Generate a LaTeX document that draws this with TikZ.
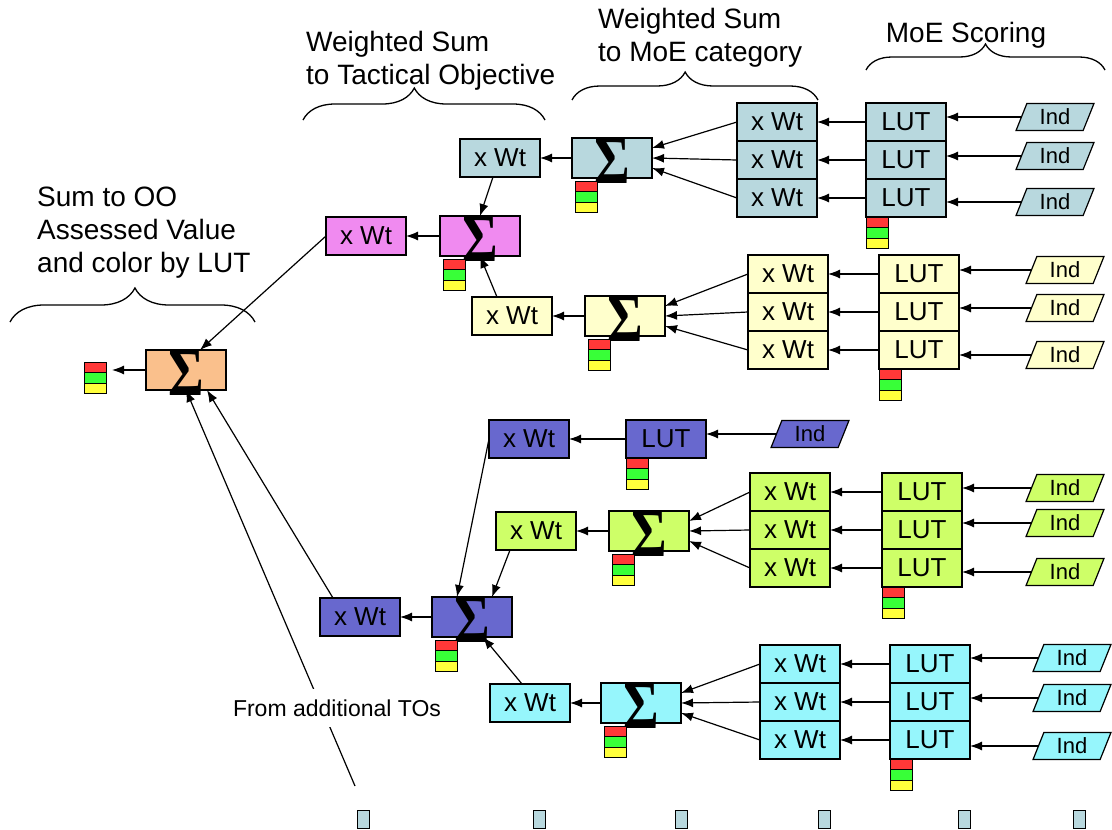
\documentclass[tikz,border=0pt]{standalone}
\usepackage{fontspec}
\setmainfont{Liberation Sans}
\newfontfamily\sigmafont{Liberation Serif}
\usetikzlibrary{arrows.meta,shapes,positioning,decorations.pathreplacing}

\definecolor{tealbox}{RGB}{184,216,222}
\definecolor{pinkbox}{RGB}{240,138,240}
\definecolor{creambox}{RGB}{255,255,204}
\definecolor{peachbox}{RGB}{250,192,140}
\definecolor{navybox}{RGB}{104,104,206}
\definecolor{limebox}{RGB}{206,255,104}
\definecolor{cyanbox}{RGB}{150,246,252}
\definecolor{lampred}{RGB}{255,56,56}
\definecolor{lampgreen}{RGB}{56,255,56}
\definecolor{lampyellow}{RGB}{255,255,60}

\newcommand{\sumsign}{\raisebox{-25pt}[0pt][0pt]{\scalebox{0.8}[1]{\sigmafont\bfseries\fontsize{68}{68}\selectfont Σ}}}
\newcommand{\lights}[2]{%
  \node[lamp, fill=lampred, anchor=north west] (#1r) at (#2) {};
  \node[lamp, fill=lampgreen, below=0pt of #1r] (#1g) {};
  \node[lamp, fill=lampyellow, below=0pt of #1g] (#1y) {};}

\begin{document}
\begin{tikzpicture}[
  x = 1pt, y = -1pt,
  > = {Latex[length=12pt,width=9pt]},
  cell/.style = {rectangle, draw, line width=1.3pt, inner sep=0pt, outer sep=0pt,
                 minimum width=80pt, minimum height=38pt,
                 font=\fontsize{26}{30}\selectfont},
  sig/.style = {cell, minimum height=40pt},
  ind/.style = {trapezium, trapezium left angle=70, trapezium right angle=110,
                trapezium stretches=true, draw, line width=1.2pt,
                minimum width=78pt, minimum height=27pt, inner sep=0pt,
                outer sep=0pt, font=\fontsize{22}{24}\selectfont},
  lamp/.style = {rectangle, draw, line width=1pt, inner sep=0pt, outer sep=0pt,
                 minimum width=22pt, minimum height=10.5pt},
  stub/.style = {rectangle, draw, line width=1pt, fill=tealbox, inner sep=0pt,
                 minimum width=12pt, minimum height=18pt},
  lbl/.style = {align=left, inner sep=0pt, font=\fontsize{28}{33}\selectfont},
  link/.style = {->, line width=1.2pt},
  bracket/.style = {decorate, decoration={brace, amplitude=#1}, line width=1.3pt}
]
\useasboundingbox (0,0) rectangle (1112,830);

% headings and braces
\node[lbl, anchor=north west] (lblTO) at (306,31) {Weighted Sum\\to Tactical Objective};
\node[lbl, anchor=north west] (lblMoE) at (598,8) {Weighted Sum\\to MoE category};
\node[lbl, anchor=north] (lblScore) at (966,22) {MoE Scoring};
\node[lbl, anchor=north west] (lblOO) at (37,187) {Sum to OO\\Assessed Value\\and color by LUT};

\draw[bracket=32pt, decoration={aspect=0.46}] (303,120) -- (545,120);
\draw[bracket=28pt, decoration={aspect=0.46}] (572,100) -- (818,100);
\draw[bracket=26pt, decoration={aspect=0.5}] (866,70) -- (1105,70);
\draw[bracket=34pt, decoration={aspect=0.51}] (10,322) -- (255,322);

% TO 1, first MoE category
\node[cell, fill=tealbox] (wtA1) at (777,122) {x Wt};
\node[cell, fill=tealbox, below=0pt of wtA1] (wtA2) {x Wt};
\node[cell, fill=tealbox, below=0pt of wtA2] (wtA3) {x Wt};
\node[cell, fill=tealbox] (lutA1) at (906,122) {LUT};
\node[cell, fill=tealbox, below=0pt of lutA1] (lutA2) {LUT};
\node[cell, fill=tealbox, below=0pt of lutA2] (lutA3) {LUT};
\node[ind, fill=tealbox] (indA1) at (1055,117) {Ind};
\node[ind, fill=tealbox] (indA2) at (1055,156) {Ind};
\node[ind, fill=tealbox] (indA3) at (1055,202) {Ind};
\node[sig, fill=tealbox] (sumA) at (612,158) {\sumsign};
\node[cell, fill=tealbox] (towtA) at (500,158) {x Wt};
\lights{tlA}{[xshift=3pt,yshift=-3pt]sumA.south west}
\lights{tlAl}{lutA3.south west}

\draw[link] (indA1.west) -- (indA1.west -| lutA1.east);
\draw[link] (indA2.west) -- (indA2.west -| lutA2.east);
\draw[link] (indA3.west) -- (indA3.west -| lutA3.east);
\draw[link] (lutA1) -- (wtA1);
\draw[link] (lutA2) -- (wtA2);
\draw[link] (lutA3) -- (wtA3);
\draw[link] (wtA1.west) -- ([yshift=10pt]sumA.east);
\draw[link] (wtA2.west) -- (sumA.east);
\draw[link] (wtA3.west) -- ([yshift=-10pt]sumA.east);
\draw[link] (sumA) -- (towtA);

% TO 1 sum
\node[sig, fill=pinkbox] (sumP) at (480,236) {\sumsign};
\node[cell, fill=pinkbox] (wtP) at (366,236) {x Wt};
\lights{tlP}{[xshift=3pt,yshift=-3pt]sumP.south west}

% TO 1, second MoE category
\node[cell, fill=creambox] (wtB1) at (788,274) {x Wt};
\node[cell, fill=creambox, below=0pt of wtB1] (wtB2) {x Wt};
\node[cell, fill=creambox, below=0pt of wtB2] (wtB3) {x Wt};
\node[cell, fill=creambox] (lutB1) at (919,274) {LUT};
\node[cell, fill=creambox, below=0pt of lutB1] (lutB2) {LUT};
\node[cell, fill=creambox, below=0pt of lutB2] (lutB3) {LUT};
\node[ind, fill=creambox] (indB1) at (1065,270) {Ind};
\node[ind, fill=creambox] (indB2) at (1065,308) {Ind};
\node[ind, fill=creambox] (indB3) at (1065,355) {Ind};
\node[sig, fill=creambox] (sumB) at (625,316) {\sumsign};
\node[cell, fill=creambox] (towtB) at (512,316) {x Wt};
\lights{tlB}{[xshift=3pt,yshift=-3pt]sumB.south west}
\lights{tlBl}{lutB3.south west}

\draw[link] (indB1.west) -- (indB1.west -| lutB1.east);
\draw[link] (indB2.west) -- (indB2.west -| lutB2.east);
\draw[link] (indB3.west) -- (indB3.west -| lutB3.east);
\draw[link] (lutB1) -- (wtB1);
\draw[link] (lutB2) -- (wtB2);
\draw[link] (lutB3) -- (wtB3);
\draw[link] (wtB1.west) -- ([yshift=10pt]sumB.east);
\draw[link] (wtB2.west) -- (sumB.east);
\draw[link] (wtB3.west) -- ([yshift=-10pt]sumB.east);
\draw[link] (sumB) -- (towtB);

\draw[link] ([xshift=-7pt]towtA.south) -- (sumP.north);
\draw[link] ([xshift=-15pt]towtB.north) -- (sumP.south);
\draw[link] (sumP) -- (wtP);

% TO 2, single indicator
\node[ind, fill=navybox] (indC) at (810,434) {Ind};
\node[cell, fill=navybox] (lutC) at (666,439) {LUT};
\node[cell, fill=navybox] (wtC) at (529,439) {x Wt};
\lights{tlCl}{lutC.south west}
\draw[link] (indC.west) -- (indC.west -| lutC.east);
\draw[link] (lutC) -- (wtC);

% TO 2, second MoE category
\node[cell, fill=limebox] (wtD1) at (790,492) {x Wt};
\node[cell, fill=limebox, below=0pt of wtD1] (wtD2) {x Wt};
\node[cell, fill=limebox, below=0pt of wtD2] (wtD3) {x Wt};
\node[cell, fill=limebox] (lutD1) at (922,492) {LUT};
\node[cell, fill=limebox, below=0pt of lutD1] (lutD2) {LUT};
\node[cell, fill=limebox, below=0pt of lutD2] (lutD3) {LUT};
\node[ind, fill=limebox] (indD1) at (1065,488) {Ind};
\node[ind, fill=limebox] (indD2) at (1065,523) {Ind};
\node[ind, fill=limebox] (indD3) at (1065,572) {Ind};
\node[sig, fill=limebox] (sumD) at (649,531) {\sumsign};
\node[cell, fill=limebox] (towtD) at (536,531) {x Wt};
\lights{tlD}{[xshift=3pt,yshift=-3pt]sumD.south west}
\lights{tlDl}{lutD3.south west}

\draw[link] (indD1.west) -- (indD1.west -| lutD1.east);
\draw[link] (indD2.west) -- (indD2.west -| lutD2.east);
\draw[link] (indD3.west) -- (indD3.west -| lutD3.east);
\draw[link] (lutD1) -- (wtD1);
\draw[link] (lutD2) -- (wtD2);
\draw[link] (lutD3) -- (wtD3);
\draw[link] (wtD1.west) -- ([yshift=10pt]sumD.east);
\draw[link] (wtD2.west) -- (sumD.east);
\draw[link] (wtD3.west) -- ([yshift=-10pt]sumD.east);
\draw[link] (sumD) -- (towtD);

% TO 2 sum
\node[sig, fill=navybox] (sumE) at (472,617) {\sumsign};
\node[cell, fill=navybox] (wtE) at (360,617) {x Wt};
\lights{tlE}{[xshift=3pt,yshift=-3pt]sumE.south west}

% TO 2, third MoE category
\node[cell, fill=cyanbox] (wtF1) at (800,664) {x Wt};
\node[cell, fill=cyanbox, below=0pt of wtF1] (wtF2) {x Wt};
\node[cell, fill=cyanbox, below=0pt of wtF2] (wtF3) {x Wt};
\node[cell, fill=cyanbox] (lutF1) at (930,664) {LUT};
\node[cell, fill=cyanbox, below=0pt of lutF1] (lutF2) {LUT};
\node[cell, fill=cyanbox, below=0pt of lutF2] (lutF3) {LUT};
\node[ind, fill=cyanbox] (indF1) at (1072,658) {Ind};
\node[ind, fill=cyanbox] (indF2) at (1072,698) {Ind};
\node[ind, fill=cyanbox] (indF3) at (1072,746) {Ind};
\node[sig, fill=cyanbox] (sumF) at (641,703) {\sumsign};
\node[cell, fill=cyanbox] (towtF) at (530,703) {x Wt};
\lights{tlF}{[xshift=3pt,yshift=-3pt]sumF.south west}
\lights{tlFl}{lutF3.south west}

\draw[link] (indF1.west) -- (indF1.west -| lutF1.east);
\draw[link] (indF2.west) -- (indF2.west -| lutF2.east);
\draw[link] (indF3.west) -- (indF3.west -| lutF3.east);
\draw[link] (lutF1) -- (wtF1);
\draw[link] (lutF2) -- (wtF2);
\draw[link] (lutF3) -- (wtF3);
\draw[link] (wtF1.west) -- ([yshift=10pt]sumF.east);
\draw[link] (wtF2.west) -- (sumF.east);
\draw[link] (wtF3.west) -- ([yshift=-10pt]sumF.east);
\draw[link] (sumF) -- (towtF);

\draw[link] (wtC.west) -- ([xshift=-15pt]sumE.north);
\draw[link] ([xshift=-26pt]towtD.south) -- ([xshift=20pt]sumE.north);
\draw[link] ([xshift=-8pt]towtF.north) -- ([xshift=11pt]sumE.south);
\draw[link] (sumE) -- (wtE);

% OO sum
\node[sig, fill=peachbox] (sumO) at (186,370) {\sumsign};
\lights{tlO}{[xshift=-62pt,yshift=8pt]sumO.west}
\draw[link, shorten >=6pt] (sumO.west) -- (sumO.west -| tlOg.east);
\draw[link] (wtP.west) -- ([xshift=14pt]sumO.north);
\draw[link] ([xshift=-27pt]wtE.north) -- ([xshift=21pt]sumO.south);

\coordinate (moreTO) at (355,786);
\draw[link] (moreTO) -- (sumO.south);
\node[fill=white, inner xsep=2pt, inner ysep=11pt, font=\fontsize{23}{26}\selectfont]
  (fromTO) at (337,708) {From additional TOs};

% further TOs
\node[stub] (stub1) at (363,819) {};
\node[stub] (stub2) at (539,819) {};
\node[stub] (stub3) at (681,819) {};
\node[stub] (stub4) at (824,819) {};
\node[stub] (stub5) at (964,819) {};
\node[stub] (stub6) at (1079,819) {};
\end{tikzpicture}
\end{document}
